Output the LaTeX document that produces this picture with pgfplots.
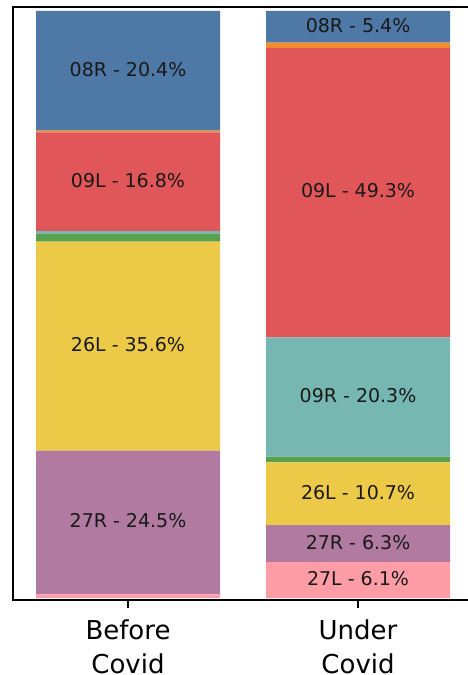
\documentclass[border=0pt]{standalone}
\usepackage{fontspec}
\setmainfont{DejaVu Sans}
\usepackage{pgfplots}
\pgfplotsset{compat=1.18}
\definecolor{cBlue}{HTML}{4E79A7}
\definecolor{cOrange}{HTML}{F28E2B}
\definecolor{cRed}{HTML}{E15759}
\definecolor{cTeal}{HTML}{76B7B2}
\definecolor{cGreen}{HTML}{59A14F}
\definecolor{cYellow}{HTML}{EDC948}
\definecolor{cPurple}{HTML}{B07AA1}
\definecolor{cPink}{HTML}{FF9DA7}
\tikzset{lbl/.style={font=\fontsize{9.5}{11}\selectfont,text=black!90,yshift=0.8pt}}

\begin{document}
\begin{tikzpicture}
\begin{axis}[
  ybar stacked, bar width=0.8,
  scale only axis, width=227.5pt, height=296.5pt,
  xmin=-0.5, xmax=1.478, ymin=-0.34, ymax=100.68,
  axis line style={draw=none},
  xtick={0,1}, xticklabels={Before\\Covid,Under\\Covid},
  xticklabel style={align=center,font=\fontsize{13}{17}\selectfont,yshift=-2.5pt},
  xtick pos=left, ytick=\empty,
  tick align=outside, major tick length=4pt,
  tick style={black,line width=0.8pt},
  clip=false,
]
% bottom to top: 27L, 27R, 26L, (green), 09R, 09L, (orange), 08R
\addplot[draw=none,fill=cPink]   coordinates {(0,0.6)  (1,6.1)};
\addplot[draw=none,fill=cPurple] coordinates {(0,24.5) (1,6.3)};
\addplot[draw=none,fill=cYellow] coordinates {(0,35.6) (1,10.7)};
\addplot[draw=none,fill=cGreen]  coordinates {(0,1.3)  (1,1.0)};
\addplot[draw=none,fill=cTeal]   coordinates {(0,0.5)  (1,20.3)};
\addplot[draw=none,fill=cRed]    coordinates {(0,16.8) (1,49.3)};
\addplot[draw=none,fill=cOrange] coordinates {(0,0.3)  (1,0.9)};
\addplot[draw=none,fill=cBlue]   coordinates {(0,20.4) (1,5.4)};

\coordinate (bl) at (rel axis cs:0,0);
\coordinate (tl) at (rel axis cs:0,1);
\coordinate (br) at (rel axis cs:1,0);
\coordinate (tr) at (rel axis cs:1,1);
\coordinate (a1) at (axis cs:0,89.8);
\coordinate (a2) at (axis cs:0,70.9);
\coordinate (a3) at (axis cs:0,42.9);
\coordinate (a4) at (axis cs:0,12.85);
\coordinate (b1) at (axis cs:1,97.3);
\coordinate (b2) at (axis cs:1,69.05);
\coordinate (b3) at (axis cs:1,34.25);
\coordinate (b4) at (axis cs:1,17.75);
\coordinate (b5) at (axis cs:1,9.25);
\coordinate (b6) at (axis cs:1,3.05);
\end{axis}
\draw[black,line width=1pt] (br) -- (bl) -- (tl) -- (tr);
\node[lbl] at (a1) {08R - 20.4\%};
\node[lbl] at (a2) {09L - 16.8\%};
\node[lbl] at (a3) {26L - 35.6\%};
\node[lbl] at (a4) {27R - 24.5\%};
\node[lbl] at (b1) {08R - 5.4\%};
\node[lbl] at (b2) {09L - 49.3\%};
\node[lbl] at (b3) {09R - 20.3\%};
\node[lbl] at (b4) {26L - 10.7\%};
\node[lbl] at (b5) {27R - 6.3\%};
\node[lbl] at (b6) {27L - 6.1\%};
\pgfresetboundingbox
\path ([shift={(-6.5pt,-37.5pt)}]bl) rectangle ([shift={(0pt,3.5pt)}]tr);
\end{tikzpicture}
\end{document}
